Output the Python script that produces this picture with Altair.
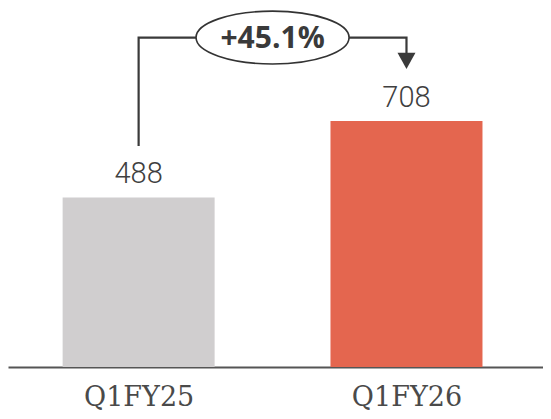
import json
import altair as alt
import pandas as pd

# ---- data ----
categories = ["Q1FY25", "Q1FY26"]
values = [488, 708]
bar_colors = ["#D0CECF", "#E4664F"]
change_label = "+45.1%"

# annotation levels (data units)
bracket_top = 948
bracket_left_bottom = 636
arrow_level = 881

idx = list(range(len(categories)))
mid = sum(idx) / len(idx)

bars_df = pd.DataFrame({"cat": categories, "pos": idx, "value": values, "color": bar_colors})
bracket_df = pd.DataFrame({
    "pos": [idx[0], idx[0], idx[1], idx[1]],
    "y": [bracket_left_bottom, bracket_top, bracket_top, arrow_level],
    "ord": [0, 1, 2, 3],
})
arrow_df = pd.DataFrame({"pos": [idx[1]], "y": [arrow_level]})
badge_df = pd.DataFrame({"pos": [mid], "y": [bracket_top], "label": [change_label]})

label_expr = json.dumps(categories) + "[datum.value]"

xscale = alt.Scale(domain=[-0.469, 1.491], nice=False, zero=False)
yscale = alt.Scale(domain=[0, 1033], nice=False)

x_axis = alt.Axis(
    values=idx, labelExpr=label_expr, title=None, ticks=False, grid=False,
    domainColor="#555555", domainWidth=2,
    labelFont="DejaVu Serif", labelFontSize=27, labelColor="#4a4a4a",
    labelPadding=17, labelBaseline="top", labelFontWeight="normal",
)

base_x = alt.X("pos:Q", scale=xscale, axis=x_axis)
base_y = alt.Y("value:Q", scale=yscale, axis=None)

bars = alt.Chart(bars_df).mark_bar(size=152).encode(
    x=base_x, y=base_y,
    color=alt.Color("color:N", scale=None),
)

value_labels = alt.Chart(bars_df).mark_text(
    font="Roboto", fontWeight=300, fontSize=29, color="#3f3f3f",
    baseline="alphabetic", dy=-14,
).encode(
    x=alt.X("pos:Q", scale=xscale), y=alt.Y("value:Q", scale=yscale),
    text=alt.Text("value:Q"),
)

bracket = alt.Chart(bracket_df).mark_line(color="#3a3a3a", strokeWidth=2.2).encode(
    x=alt.X("pos:Q", scale=xscale), y=alt.Y("y:Q", scale=yscale),
    order="ord:Q",
)

arrow = alt.Chart(arrow_df).mark_point(
    shape="M-1,-0.9 L1,-0.9 L0,0.9 Z", size=324, filled=True,
    color="#3a3a3a", opacity=1,
).encode(
    x=alt.X("pos:Q", scale=xscale), y=alt.Y("y:Q", scale=yscale),
)

ellipse = alt.Chart(badge_df).mark_point(
    shape="M-1,0 A1,0.345 0 1,1 1,0 A1,0.345 0 1,1 -1,0 Z", size=153 * 153,
    filled=True, fill="white", stroke="#333333", strokeWidth=1.6, opacity=1,
).encode(
    x=alt.X("pos:Q", scale=xscale), y=alt.Y("y:Q", scale=yscale),
)

badge_text = alt.Chart(badge_df).mark_text(
    font="Open Sans", fontWeight="bold", fontSize=30, color="#3a3a3a",
    baseline="middle", dy=1,
).encode(
    x=alt.X("pos:Q", scale=xscale), y=alt.Y("y:Q", scale=yscale),
    text="label:N",
)

chart = alt.layer(bars, value_labels, bracket, arrow, ellipse, badge_text).properties(
    width=535, height=359,
    autosize=alt.AutoSizeParams(type="none"),
    padding={"left": 0, "top": 0, "right": 0, "bottom": 44},
).configure_view(stroke=None)

chart.save("out.html", embed_options={"renderer": "svg", "actions": False})
